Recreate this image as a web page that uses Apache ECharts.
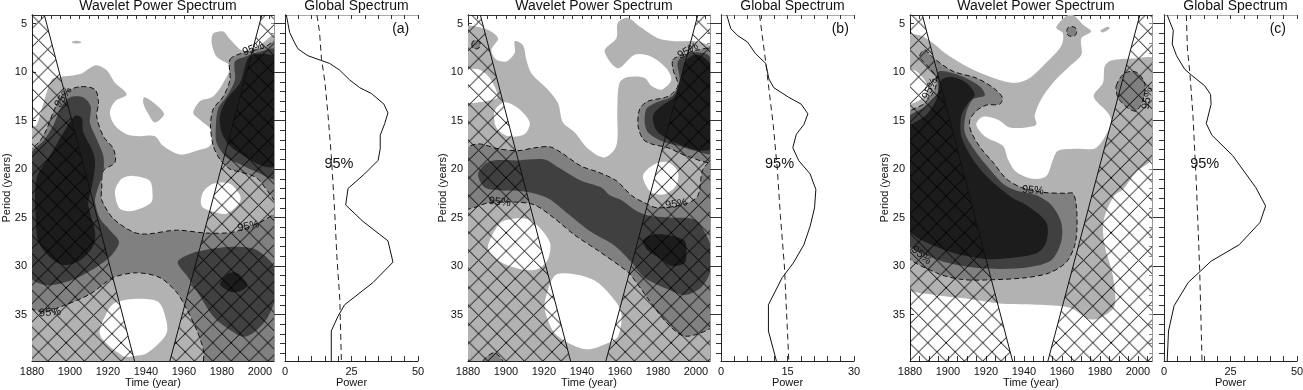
<!DOCTYPE html>
<html>
<head>
<meta charset="utf-8">
<script src="https://cdn.jsdelivr.net/npm/echarts@6/dist/echarts.min.js"></script>
<style>
html, body { margin: 0; padding: 0; background: #fff; }
#chart { width: 1303px; height: 390px; }
</style>
</head>
<body>
<div id="chart"></div>
<script>
// contour outlines are [year, period]
const aLight = [[[1879,16.1],[1882.5,15.4],[1886,13.2],[1890.4,10.75],[1894.7,10.5],[1905.3,10.2],[1913.2,9.3],[1919.3,9.8],[1923.7,11.1],[1929.8,12.3],[1923.7,13],[1921,14.2],[1923.7,15.5],[1929.8,16.4],[1936.8,16.6],[1944.7,16.6],[1949,17.6],[1957.9,18.5],[1966.7,18.1],[1973.7,17.6],[1975.4,16.2],[1968.4,14.9],[1964.9,14.2],[1968.4,13],[1975.4,12.5],[1980.7,11.1],[1984.2,9.4],[1977.2,8.4],[1974.6,7],[1975.4,6],[1980.7,5.8],[1984.2,6.6],[1991.2,7.8],[2000,7.2],[2007,6.1],[2010.5,6.1],[2010.5,41],[1878,41]]];
const aHoles = [
    [[1933.3,20.7],[1942,21.2],[1943.5,22.7],[1942.5,23.5],[1933.3,24.3],[1926.3,24.1],[1923.7,22.3],[1927.2,21]],
    [[1970,22.4],[1975.4,21.5],[1984.2,21.5],[1989.5,22.7],[1989.5,23.4],[1982.5,24.6],[1975.4,24.4],[1969.3,23.8]],
    [[1923.7,33.8],[1933.3,33.4],[1945.6,33.6],[1949.1,34.5],[1950.9,36.9],[1940.4,39],[1933.3,39.3],[1928,39.3],[1915.8,37.1],[1919.4,34.8]]
];
const aIslands = [
    [[1900.9,6.9],[1903.5,6.75],[1906,6.9],[1903.5,7.05]],
    [[1939,12.6],[1943,13],[1949.5,14.3],[1944.7,15.2],[1941.2,14.3],[1938.6,13.2]]
];
const aMid = [
    [[1879,18.3],[1884.2,17.1],[1887.7,15.9],[1892.1,13.7],[1897.4,12.1],[1905.3,11.5],[1913.2,11.8],[1915,13.2],[1914,14.5],[1917.5,16.6],[1922.8,17.9],[1923.7,19.3],[1917.5,20.2],[1916.7,22.1],[1916.7,23.2],[1922.8,25.1],[1933.3,26.5],[1940.4,26.7],[1956.1,26.3],[1971.9,26.6],[1986,26.5],[2000,25.5],[2008.8,24.8],[2009,41],[1971.9,41],[1970.2,38.6],[1966.7,36.6],[1960.5,34.1],[1956.1,32.7],[1947.4,31.2],[1935.1,30.7],[1922.8,31.2],[1910.5,32.9],[1896.5,34.1],[1886,34.7],[1879,34.1]],
    [[1984.2,8.7],[1991.2,8],[2001.8,7.5],[2008.8,6.8],[2008.8,23.4],[2005.3,22.6],[1998.2,20.9],[1989.5,20.3],[1984.2,20],[1979,19],[1975.4,17.6],[1974,15.5],[1975.4,13.8],[1980.7,12.5],[1984.2,10.8]]
];
const aDark = [
    [[1879,18.6],[1886,17.1],[1891.2,15.5],[1895.6,13.5],[1900,12.6],[1907,12.6],[1910.9,13.5],[1910.5,15.2],[1914,16.9],[1917.5,18.6],[1917.5,20.3],[1914,22.4],[1913.2,23.4],[1915.8,25.1],[1921,26.3],[1925.8,27.5],[1921.9,28.9],[1914,30.1],[1901.8,31.4],[1889.5,32],[1882.5,31.7],[1879,31]],
    [[1986.8,8.9],[1992.1,8.4],[2001.8,7.8],[2008.8,7.7],[2008.8,20.9],[1998.2,20.3],[1989.5,19.5],[1982.5,18.8],[1977.2,17.3],[1976.8,15.5],[1978.1,13.7],[1982.5,12.5],[1986.8,10.8]],
    [[1956.7,29.6],[1963.2,28.75],[1975.4,28.2],[1986,28],[1996.5,28.2],[2003.5,29.1],[2007.9,30.3],[2007.9,33.4],[2003.5,35.5],[1996.5,36.9],[1991.2,37.3],[1984.2,36.6],[1975.4,35.2],[1968.4,33.1],[1962.3,31.2]]
];
const aBlack = [
    [[1881.6,22.7],[1882.8,20.7],[1889.5,18.6],[1898.2,15.7],[1902.6,14.5],[1906.1,14.7],[1907,16.2],[1911.4,17.9],[1913.2,19.1],[1912.3,21],[1910.5,22.7],[1909.6,23.7],[1913.2,26.5],[1912.3,27.9],[1905.3,29.4],[1896.5,29.9],[1889.5,29.1],[1883.3,27.5],[1882.1,25.5]],
    [[1993.9,8.5],[2000,8.1],[2005.3,8.2],[2008.8,8.5],[2008.8,19.6],[2001.8,19.7],[1991.2,18.6],[1984.2,17.6],[1979.8,16.2],[1979,14.5],[1982.5,12.8],[1989.5,11.1]],
    [[1979,31.8],[1984.2,30.7],[1988.6,30.8],[1993.3,32],[1989.5,32.6],[1985.1,32.7],[1981.1,32.3]]
];
const aLabels = [[1896.5,12.6,55],[1996.5,7.6,20],[1993.9,25.9,12],[1889.5,34.8,5]];

const bLight = [[[1878.2,5.5],[1888.8,5.5],[1895.8,6.5],[1892.3,7.7],[1894.9,8.7],[1900.2,8.9],[1904.6,8],[1904.6,6.8],[1908.9,7.2],[1910.7,8.7],[1913.3,10.1],[1922.1,11.8],[1927.4,13.2],[1930,15.2],[1936.1,16.2],[1943.2,17.9],[1951.9,18.8],[1958.1,17.6],[1958.6,13.8],[1959.8,11.1],[1964.2,10.5],[1973,10.6],[1976.5,11.4],[1981.8,11.8],[1987,10.8],[1984.4,9.6],[1976.5,8.4],[1967.7,8.2],[1958.9,9.6],[1951.9,7.8],[1958.1,6.5],[1958.9,4.9],[1964.2,4.4],[1971.2,5.4],[1980,6.5],[1988.8,6.8],[1999.3,6.8],[2008.1,7.2],[2010,7.2],[2010,41],[1878,41]]];
const bHoles = [
    [[1885.3,9.7],[1891.4,10.6],[1895.8,12.5],[1892.3,12.9],[1878,13],[1878,9.9]],
    [[1899.3,13.1],[1906.3,13.7],[1912.5,15.2],[1909.8,16.4],[1901.1,16.6],[1894.9,15.7],[1894,14]],
    [[1972.1,20.7],[1978.2,19.5],[1985.3,19.3],[1990.5,20.3],[1989.6,21.7],[1983.5,22.6],[1976.5,22.4]],
    [[1890.5,27.9],[1896.7,25.6],[1904.6,25.1],[1913.3,25.3],[1923,27.5],[1922.1,29.3],[1916.8,30.3],[1909.8,30.4],[1899.3,29.8],[1892.3,28.8]],
    [[1920.4,33.8],[1925.6,31],[1934.4,30.8],[1946.7,31.5],[1955.4,33.1],[1960.7,34.8],[1958.9,37.3],[1951.9,38.1],[1943.2,38.6],[1934.4,38.1],[1925.6,36.9],[1921.2,35.1]]
];
const bIslands = [];
const bMid = [
    [[1987.9,8.7],[1993.2,8.2],[2001.1,7.7],[2009,7.7],[2009,19.1],[1995.8,18.7],[1985.3,17.8],[1976.5,17.4],[1972.1,16.9],[1969.5,15.5],[1970.4,13.8],[1974.7,13],[1985.3,12.5],[1990.5,11.4],[1987.9,9.7]],
    [[1878.2,18.1],[1885.3,17.4],[1895.8,17.9],[1906.3,18.1],[1915.1,17.8],[1923,17.7],[1929.1,18.3],[1939.6,19.7],[1948.4,20.3],[1958.1,21.2],[1966,22.7],[1972.1,23.4],[1980,24],[1995.8,23.5],[2001.1,22.7],[2003.7,20],[2009,19.2],[2009,36],[2001.1,37],[1993.2,37.2],[1985.3,36],[1978.2,34.3],[1971.2,32.4],[1965.1,30.8],[1960.7,30.1],[1948.4,28.4],[1936.1,26.8],[1925.6,25.1],[1915.1,23.7],[1904.6,23.4],[1890.5,23.5],[1878.2,24]],
    [[1882,7.15],[1882.6,6.8],[1884.2,6.7],[1885.8,6.8],[1886.5,7.15],[1885.8,7.5],[1884.2,7.6],[1882.6,7.5]],
    [[1887.9,39.8],[1891,39.2],[1894,38.95],[1898.4,39.8],[1898.4,40.5],[1887.9,40.5]]
];
const bDark = [
    [[1885.3,20.5],[1891.4,19.2],[1906.3,19.1],[1920.4,19],[1927.4,19.8],[1939.6,21.2],[1950.2,21.9],[1954.6,22.7],[1960.7,23.2],[1967.7,24.2],[1974.7,24.8],[1985.3,25],[1999.3,25.2],[2004.6,26.5],[2008.1,28.2],[2008.1,30.3],[2002.8,32.2],[1994,33],[1985.3,32.4],[1973,31.2],[1966,29.6],[1957.2,27.9],[1944.9,26.5],[1932.6,24.6],[1922.1,23],[1909.8,22.3],[1897.5,22.2],[1888.8,21.9]],
    [[1990.5,8.9],[1997.5,8],[2006.3,8.2],[2009,9.4],[2009,18.3],[1999.3,18.1],[1990.5,17.6],[1981.8,17.1],[1974.7,16.2],[1973,15.2],[1973.9,13.8],[1978.2,13.2],[1987.9,12.4],[1991.4,10.8]]
];
const bBlack = [
    [[1994,9],[1999.3,8.2],[2003.7,8.4],[2008.1,9.4],[2008.1,17.8],[2002.8,18.1],[1995.8,17.8],[1985.3,16.9],[1979.1,16],[1977.4,14.5],[1981.8,13.5],[1988.8,12.5],[1992.3,10.8]],
    [[1972.1,27.4],[1976.5,26.8],[1985.3,26.8],[1994,27.4],[1994.9,28.6],[1994,29.7],[1987,30],[1981.8,29.3],[1974.7,28.4]]
];
const bLabels = [[1995.8,7.8,30],[1896.7,23.4,-5],[1989.6,23.6,8]];

const cLight = [[[1878,6.3],[1885.1,6.2],[1892.1,7],[1898.2,8],[1907.9,9.2],[1918.4,10.2],[1928.9,10.9],[1936,11.1],[1943,10.6],[1951.8,9],[1959.6,7.3],[1960.5,6],[1957,5.4],[1962.3,4.2],[1965.8,4.1],[1971.1,5.1],[1975.4,5.8],[1970.2,6.5],[1970.2,8.2],[1964,9.4],[1955.3,11.1],[1949.1,12.8],[1945.6,14.5],[1946.5,15.4],[1941.2,15.7],[1932.5,15.7],[1926.3,14.9],[1918.4,14.6],[1914.9,15.4],[1919.3,16.6],[1928.9,17.6],[1931.6,19],[1936,20.3],[1944.7,21],[1951.8,20.7],[1955.3,19],[1957.9,18.1],[1967.5,17.9],[1978.1,17.8],[1986,15.2],[1984.2,14.2],[1976.7,12.5],[1981.6,11.1],[1982.5,9.4],[1986,8.8],[1997.4,8.6],[2008.8,8.7],[2008.8,18.6],[1999.1,20.3],[1992.1,22.1],[1987.7,22.7],[1983.3,24.4],[1981.6,25.8],[1982.5,27.9],[1986.8,31],[1987.7,34.1],[1981.6,35.2],[1974.6,35.5],[1964,34.3],[1946.5,34],[1928.9,33.9],[1911.4,33.4],[1893.9,33],[1878,32]]];
const cHoles = [
    [[1878,9.7],[1883.3,9.9],[1887.7,10.8],[1889.5,11.6],[1886.8,12.6],[1881.6,13.2],[1878,13.2]]
];
const cIslands = [
    [[1980.2,5.7],[1984.2,5.3],[1985.1,5.5],[1981.6,5.9]]
];
const cMid = [
    [[1878,14.5],[1887.7,13.2],[1893,11.8],[1893.9,10.6],[1890.4,9.6],[1885.1,8.4],[1887.7,7.7],[1892.1,8.5],[1902.6,9.9],[1914.9,10.6],[1923.7,11.6],[1928.6,12.6],[1927.2,13.3],[1920.2,13.4],[1914.9,14],[1911.4,15],[1912.3,16.2],[1917.5,17.9],[1923.7,19.3],[1930.7,21],[1938.6,21.9],[1950,22.4],[1962.3,22.5],[1965.8,22.5],[1967.5,23.7],[1967.9,26.1],[1966.7,27.9],[1962.3,29.6],[1953.5,30.7],[1941.2,31.2],[1925.4,31.4],[1907.9,31.4],[1893.9,30.7],[1878,28.6]],
    [[1962.5,5.8],[1963.2,5.4],[1965.1,5.3],[1967,5.4],[1967.7,5.8],[1967,6.2],[1965.1,6.3],[1963.2,6.2]],
    [[1988.6,11.4],[1993,10.1],[1999.1,10],[2003.5,11.1],[2002.9,12.8],[1999.1,14],[1994.7,13.7],[1989.5,12.6]]
];
const cDark = [
    [[1878,15],[1888.6,13.5],[1894.7,12.1],[1894.7,10],[1902.6,10.1],[1911.4,10.8],[1917.5,11.6],[1919.3,12.4],[1913.2,12.8],[1909.6,14.2],[1908.8,16.2],[1914.9,18.3],[1921.9,20],[1928.9,21.5],[1936,22.2],[1946.5,22.7],[1954.4,23.7],[1959.6,25.5],[1959.6,27.5],[1954.4,29.4],[1943,30.1],[1928.9,30.3],[1911.4,30.1],[1893.9,29.3],[1878,27.4]]
];
const cBlack = [
    [[1878,16.1],[1888.6,14.4],[1893.9,12.8],[1896.5,10.8],[1901.8,10.5],[1909.6,11.1],[1914,12.3],[1910.5,13.2],[1907,14.5],[1907,16.6],[1913.2,19],[1920.2,20.7],[1928.9,22.2],[1934.2,23],[1941.2,23.7],[1951.8,25.5],[1951.8,27.5],[1947.4,28.6],[1936,29.1],[1921.9,29.3],[1907.9,28.9],[1893.9,28],[1883.3,27],[1878,25.8]]
];
const cLabels = [[1890.5,11.7,65],[1944.7,22.2,-5],[2005,12.7,80],[1886,28.9,-40]];

// global spectra, [power, period]
const aPower = [[0.5,4.1],[1.75,5.9],[3.3,6.8],[4.9,7.6],[8.6,8.3],[13.7,8.8],[16.8,9.1],[20.6,9.8],[24.3,10.8],[28.1,11.6],[32.5,12.2],[37.2,13.3],[38.7,14.2],[37.5,15.3],[35.8,16.5],[35.8,17.9],[35,19.1],[29.9,20.5],[23.7,22],[22.8,23.7],[29.3,25.4],[38.7,27.4],[40.6,29.6],[33.1,31.7],[22.4,34],[19.9,35.2],[17.4,36.7],[17.4,39.8]];
const aSignif = [[12,4.1],[13,5.9],[13.7,8.6],[15,11],[16.2,14.5],[17.4,18.6],[18.7,24.5],[19.5,29],[20.6,33.4],[21.2,39.8]];
const bPower = [[1.3,4.1],[2.2,5.5],[3.7,6.2],[6,6.9],[7.8,8.1],[10.1,9.1],[10.8,10.7],[11.9,11.6],[15.3,12.6],[18.1,13.3],[19.6,14.3],[18.7,15.4],[17,16.4],[16.2,17.8],[17.5,19.1],[20.1,20.5],[21.4,22.1],[21.1,24],[20.1,25.9],[18.7,27.8],[16.3,29.7],[13.8,31.2],[10.7,34],[10.7,36.7],[12.5,39.8]];
const bSignif = [[8.7,4.1],[9.3,6.2],[10.1,9],[10.8,11.7],[11.8,15.5],[12.7,20],[13.4,24.8],[14.3,30],[15.3,39.8]];
const cPower = [[1.2,4.1],[3.5,5.7],[3.1,7.1],[4.7,8.3],[7.8,9.7],[10.3,10.3],[15.3,11.4],[17.5,12.3],[17.7,13.3],[15.9,15.3],[18,16.5],[25.8,18.6],[34.5,21.9],[38.2,23.8],[36.1,25.5],[28.3,27.8],[17.7,29.5],[9.1,31.7],[3.8,34.1],[1.7,36.7],[1.2,39.8]];
const cSignif = [[8.4,4.1],[8.8,7.6],[9.7,10],[10.9,14.5],[12.2,21.7],[13.4,30.3],[14.3,39.8]];

const coiLeft = [[1886.5,4.1],[1934,39.8]];
const coiRight = [[2001,4.1],[1952.6,39.8]];

const yearLabels = [1880,1900,1920,1940,1960,1980,2000];
const yearMinor = [1880,1885,1890,1895,1900,1905,1910,1915,1920,1925,1930,1935,1940,1945,1950,1955,1960,1965,1970,1975,1980,1985,1990,1995,2000,2005];
const periodLabels = [5,10,15,20,25,30,35];
const periodMinor = [5,6,7,8,9,10,11,12,13,14,15,16,17,18,19,20,21,22,23,24,25,26,27,28,29,30,31,32,33,34,35,36,37,38,39];

const panels = [
    { tag: '(a)', left: 32, specLeft: 285, maxPower: 50, powerLabels: [0,25,50], powerMinor: [0,5,10,15,20,25,30,35,40,45,50], tagX: 43.5, sigX: 20.3,
      light: aLight, holes: aHoles, islands: aIslands, mid: aMid, dark: aDark, black: aBlack, labels: aLabels, power: aPower, signif: aSignif },
    { tag: '(b)', left: 468, specLeft: 721, maxPower: 30, powerLabels: [0,15,30], powerMinor: [0,3,6,9,12,15,18,21,24,27,30], tagX: 26.9, sigX: 13.2,
      light: bLight, holes: bHoles, islands: bIslands, mid: bMid, dark: bDark, black: bBlack, labels: bLabels, power: bPower, signif: bSignif },
    { tag: '(c)', left: 910, specLeft: 1164, maxPower: 50, powerLabels: [0,25,50], powerMinor: [0,5,10,15,20,25,30,35,40,45,50], tagX: 42.8, sigX: 15.3,
      light: cLight, holes: cHoles, islands: cIslands, mid: cMid, dark: cDark, black: cBlack, labels: cLabels, power: cPower, signif: cSignif }
];

const FONT = 'Liberation Sans';
const TOP = 15, HEIGHT = 346, MAP_W = 242, SPEC_W = 133;

// three periods of the cross hatch in 55px, the lines repeat every 18.33px
const hatchTile = document.createElement('canvas');
hatchTile.width = hatchTile.height = 55;
{
    const ctx = hatchTile.getContext('2d');
    ctx.strokeStyle = '#000';
    ctx.lineWidth = 1;
    ctx.beginPath();
    for (let k = -55; k <= 55; k += 55 / 3) {
        ctx.moveTo(k, 0); ctx.lineTo(k + 55, 55);
        ctx.moveTo(k + 55, 0); ctx.lineTo(k, 55);
    }
    ctx.stroke();
}

const option = {
    animation: false,
    backgroundColor: '#fff',
    title: [], grid: [], xAxis: [], yAxis: [], series: []
};

function tickAxis(extra) {
    return Object.assign({
        type: 'value',
        splitLine: { show: false },
        axisLine: { show: true, onZero: false, lineStyle: { color: '#222', width: 1 } },
        axisLabel: { show: false },
        axisTick: { show: false }
    }, extra);
}

function plainNumber(v) { return String(v); }

// one set of framed axes for a grid, returns the indices series should use
function addAxes(gridIndex, x, y) {
    const xIdx = option.xAxis.length, yIdx = option.yAxis.length;
    const xBase = { gridIndex, min: x.min, max: x.max };
    const yBase = { gridIndex, min: 4.1, max: 39.8, inverse: true };
    option.xAxis.push(tickAxis(Object.assign({}, xBase, {
        position: 'bottom', name: x.name, nameLocation: 'middle', nameGap: 16, nameMoveOverlap: false,
        nameTextStyle: { fontFamily: FONT, fontSize: 11, color: '#111' },
        axisLabel: { show: true, customValues: x.labels, formatter: plainNumber, margin: 5, fontFamily: FONT, fontSize: 11, color: '#111' },
        axisTick: { show: true, inside: true, length: 5, customValues: x.minor, lineStyle: { color: '#333' } }
    })));
    option.xAxis.push(tickAxis(Object.assign({}, xBase, {
        position: 'top',
        axisLine: { show: true, onZero: false, lineStyle: { color: x.topColor, width: 1 } },
        axisTick: { show: true, inside: true, length: 4, customValues: x.minor, lineStyle: { color: '#333' } }
    })));
    option.yAxis.push(tickAxis(Object.assign({}, yBase, {
        position: 'left', name: y.name, nameLocation: 'middle', nameGap: 20, nameRotate: 90, nameMoveOverlap: false,
        nameTextStyle: { fontFamily: FONT, fontSize: 11, color: '#111' },
        axisLabel: { show: y.labels, customValues: periodLabels, formatter: plainNumber, margin: 5, fontFamily: FONT, fontSize: 11, color: '#111' },
        axisTick: { show: true, inside: y.inside, length: y.majorLen, customValues: periodLabels, lineStyle: { color: '#333' } }
    })));
    option.yAxis.push(tickAxis(Object.assign({}, yBase, {
        position: 'left',
        axisTick: { show: true, inside: y.inside, length: y.minorLen, customValues: periodMinor, lineStyle: { color: '#333' } }
    })));
    option.yAxis.push(tickAxis(Object.assign({}, yBase, {
        position: 'right',
        axisLine: { show: y.rightFrame, onZero: false, lineStyle: { color: '#999', width: 1 } },
        axisTick: { show: y.rightFrame, inside: true, length: 3, customValues: periodMinor, lineStyle: { color: '#888' } }
    })));
    return { xAxisIndex: xIdx, yAxisIndex: yIdx };
}

function polygonSeries(axes, ring, fill, extraStyle, smooth) {
    return Object.assign({
        type: 'custom',
        clip: true,
        silent: true,
        data: ring,
        renderItem: function (params, api) {
            if (params.dataIndex !== 0) return;
            const pts = ring.map(function (p) { return api.coord(p); });
            return {
                type: 'polygon',
                shape: { points: pts, smooth: smooth },
                style: Object.assign({ fill: fill, stroke: null }, extraStyle)
            };
        }
    }, axes);
}

function textSeries(axes, rows, fontSize) {
    return Object.assign({
        type: 'custom',
        silent: true,
        data: rows.map(function (r) { return [r[0], r[1]]; }),
        renderItem: function (params, api) {
            const r = rows[params.dataIndex];
            const pt = api.coord([r[0], r[1]]);
            return {
                type: 'text',
                x: pt[0], y: pt[1],
                rotation: (r[2] || 0) * Math.PI / 180,
                style: { text: r[3] || '95%', x: 0, y: 0, align: 'center', verticalAlign: 'middle', fill: '#111', font: fontSize + 'px "' + FONT + '"' }
            };
        }
    }, axes);
}

panels.forEach(function (p, i) {
    const mapGrid = i * 2, specGrid = i * 2 + 1;
    option.grid.push({ left: p.left, top: TOP, width: MAP_W, height: HEIGHT, outerBoundsMode: 'none' });
    option.grid.push({ left: p.specLeft, top: TOP, width: SPEC_W, height: HEIGHT, outerBoundsMode: 'none' });
    option.title.push({ text: 'Wavelet Power Spectrum', left: p.left + MAP_W / 2, top: -6, textAlign: 'center',
        textStyle: { fontFamily: FONT, fontWeight: 'normal', fontSize: 14, color: '#111' } });
    option.title.push({ text: 'Global Spectrum', left: p.specLeft + SPEC_W / 2, top: -6, textAlign: 'center',
        textStyle: { fontFamily: FONT, fontWeight: 'normal', fontSize: 14, color: '#111' } });

    const mapAxes = addAxes(mapGrid,
        { min: 1880, max: 2007.4, name: 'Time (year)', labels: yearLabels, minor: yearMinor, topColor: '#333' },
        { name: 'Period (years)', labels: true, inside: true, majorLen: 4, minorLen: 0, rightFrame: true });
    const specAxes = addAxes(specGrid,
        { min: 0, max: p.maxPower, name: 'Power', labels: p.powerLabels, minor: p.powerMinor, topColor: '#aaa' },
        { name: '', labels: false, inside: false, majorLen: 11, minorLen: 5, rightFrame: false });

    const add = function (rings, fill, style) {
        rings.forEach(function (r) { option.series.push(polygonSeries(mapAxes, r, fill, style, 0.3)); });
    };
    add(p.light, '#b2b2b2');
    add(p.holes, '#ffffff');
    add(p.islands, '#b2b2b2');
    add(p.mid, '#808080', { stroke: '#111', lineWidth: 1, lineDash: [5, 3] });
    add(p.dark, '#404040');
    add(p.black, '#1c1c1c');

    const hatchFill = { image: hatchTile, repeat: 'repeat', x: 11.1, y: 12.7 };
    option.series.push(polygonSeries(mapAxes, [coiLeft[0], coiLeft[1], [1878, 39.8], [1878, 4.1]], hatchFill, null, 0));
    option.series.push(polygonSeries(mapAxes, [coiRight[0], coiRight[1], [2009, 39.8], [2009, 4.1]], hatchFill, null, 0));

    [coiLeft, coiRight].forEach(function (l) {
        option.series.push(Object.assign({ type: 'line', data: l, showSymbol: false, silent: true,
            lineStyle: { color: '#111', width: 1 } }, mapAxes));
    });
    option.series.push(textSeries(mapAxes, p.labels, 11));

    option.series.push(Object.assign({ type: 'line', data: p.power, showSymbol: false, silent: true,
        lineStyle: { color: '#111', width: 1 } }, specAxes));
    option.series.push(Object.assign({ type: 'line', data: p.signif, showSymbol: false, silent: true,
        lineStyle: { color: '#222', width: 1, type: [6, 4] } }, specAxes));
    option.series.push(textSeries(specAxes, [[p.sigX, 19.5, 0, '95%']], 14.5));
    option.series.push(textSeries(specAxes, [[p.tagX, 5.6, 0, p.tag]], 14));
});

const myChart = echarts.init(document.getElementById('chart'), null, { renderer: 'canvas' });
myChart.setOption(option);
</script>
</body>
</html>
